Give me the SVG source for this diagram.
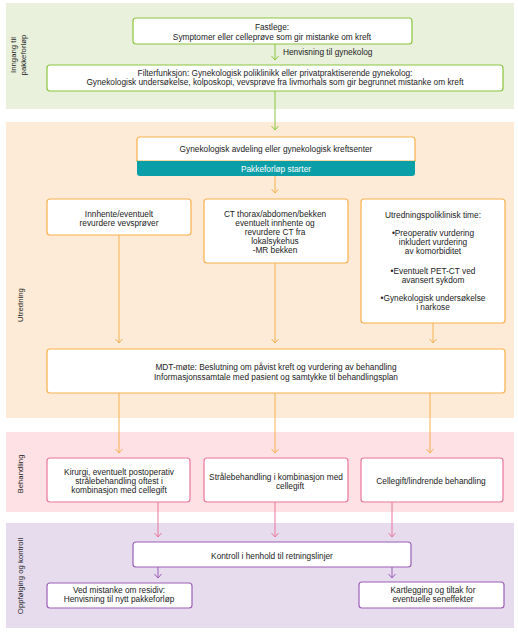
<svg xmlns="http://www.w3.org/2000/svg" width="518" height="633" viewBox="0 0 518 633">
<style>
text{font-family:"Liberation Sans",Arial,sans-serif;font-size:8.3px;fill:#222;text-anchor:middle}
.lbl{font-size:7.8px}
.box{fill:#fff;stroke-width:1.2}
.g{stroke:#8cc63f}
.o{stroke:#f8b04e}
.p{stroke:#e9769c}
.v{stroke:#9b5fb8}
.c{fill:none;stroke-width:1}
</style>
<defs>
<marker id="ag" markerWidth="8" markerHeight="6" refX="4" refY="5" markerUnits="userSpaceOnUse" viewBox="0 0 8 6"><polyline points="0.5,1 4,5 7.5,1" fill="none" stroke="#8cc63f" stroke-width="1"/></marker>
<marker id="ao" markerWidth="8" markerHeight="6" refX="4" refY="5" markerUnits="userSpaceOnUse" viewBox="0 0 8 6"><polyline points="0.5,1 4,5 7.5,1" fill="none" stroke="#f8b04e" stroke-width="1"/></marker>
<marker id="ap" markerWidth="8" markerHeight="6" refX="4" refY="5" markerUnits="userSpaceOnUse" viewBox="0 0 8 6"><polyline points="0.5,1 4,5 7.5,1" fill="none" stroke="#e9769c" stroke-width="1"/></marker>
<marker id="av" markerWidth="8" markerHeight="6" refX="4" refY="5" markerUnits="userSpaceOnUse" viewBox="0 0 8 6"><polyline points="0.5,1 4,5 7.5,1" fill="none" stroke="#9b5fb8" stroke-width="1"/></marker>
</defs>
<rect width="518" height="633" fill="#fff"/>
<g id="bands">
<rect x="6" y="3" width="508" height="106" fill="#e9f1dd"/>
<rect x="6" y="122" width="508" height="296" fill="#fdebd7"/>
<rect x="6" y="432" width="508" height="80" fill="#fde1e4"/>
<rect x="6" y="523" width="508" height="105" fill="#e6dced"/>
<text transform="translate(16,55) rotate(-90)" class="lbl">Inngang til</text>
<text transform="translate(25.5,55) rotate(-90)" class="lbl">pakkeforløp</text>
<text transform="translate(22.5,305) rotate(-90)" class="lbl">Utredning</text>
<text transform="translate(22.5,474) rotate(-90)" class="lbl">Behandling</text>
<text transform="translate(22.5,576) rotate(-90)" class="lbl">Oppfølging og kontroll</text>
</g>
<g id="connectors">
<line class="c g" x1="275" y1="44" x2="275" y2="60" marker-end="url(#ag)"/>
<text x="283" y="55" style="text-anchor:start">Henvisning til gynekolog</text>
<line class="c g" x1="275" y1="91" x2="275" y2="130" marker-end="url(#ag)"/>
<line class="c o" x1="275" y1="176" x2="275" y2="193" marker-end="url(#ao)"/>
<line class="c o" x1="119" y1="235" x2="119" y2="343" marker-end="url(#ao)"/>
<line class="c o" x1="275" y1="263" x2="275" y2="343" marker-end="url(#ao)"/>
<line class="c o" x1="433" y1="323" x2="433" y2="343" marker-end="url(#ao)"/>
<line class="c o" x1="119" y1="393" x2="119" y2="453" marker-end="url(#ao)"/>
<line class="c o" x1="275" y1="393" x2="275" y2="453" marker-end="url(#ao)"/>
<line class="c o" x1="430" y1="393" x2="430" y2="453" marker-end="url(#ao)"/>
<line class="c p" x1="158" y1="502" x2="158" y2="537" marker-end="url(#ap)"/>
<line class="c p" x1="275" y1="502" x2="275" y2="537" marker-end="url(#ap)"/>
<line class="c p" x1="392" y1="502" x2="392" y2="537" marker-end="url(#ap)"/>
<line class="c v" x1="158" y1="567" x2="158" y2="578" marker-end="url(#av)"/>
<line class="c v" x1="392" y1="567" x2="392" y2="578" marker-end="url(#av)"/>
</g>
<g id="fastlege">
<rect class="box g" x="133" y="18" width="279" height="26" rx="3"/>
<text x="272" y="30">Fastlege:</text>
<text x="272" y="39.5">Symptomer eller celleprøve som gir mistanke om kreft</text>
</g>
<g id="filter">
<rect class="box g" x="47" y="65" width="456" height="26" rx="3"/>
<text x="275" y="75.5">Filterfunksjon: Gynekologisk poliklinikk eller privatpraktiserende gynekolog:</text>
<text x="275" y="85">Gynekologisk undersøkelse, kolposkopi, vevsprøve fra livmorhals som gir begrunnet mistanke om kreft</text>
</g>
<g id="gynavd">
<path d="M137,161 V140 a3,3 0 0 1 3,-3 H412 a3,3 0 0 1 3,3 V161 Z" fill="#fff" stroke="#f8b04e" stroke-width="1.2"/>
<path d="M137,161 H415 V173 a3,3 0 0 1 -3,3 H140 a3,3 0 0 1 -3,-3 Z" fill="#0a9ea8"/>
<text x="276" y="152">Gynekologisk avdeling eller gynekologisk kreftsenter</text>
<text x="276" y="171.5" style="fill:#fff">Pakkeforløp starter</text>
</g>
<g id="vevsprover">
<rect class="box o" x="47" y="199" width="144" height="36" rx="3"/>
<text x="119" y="217">Innhente/eventuelt</text>
<text x="119" y="226">revurdere vevsprøver</text>
</g>
<g id="ct">
<rect class="box o" x="204" y="199" width="144" height="64" rx="3"/>
<text x="275" y="217">CT thorax/abdomen/bekken</text>
<text x="275" y="226">eventuelt innhente og</text>
<text x="275" y="235">revurdere CT fra</text>
<text x="275" y="244">lokalsykehus</text>
<text x="275" y="253">-MR bekken</text>
</g>
<g id="utredningspoliklinisk">
<rect class="box o" x="361" y="199" width="144" height="124" rx="3"/>
<text x="433" y="218">Utredningspoliklinisk time:</text>
<text x="433" y="236">•Preoperativ vurdering</text>
<text x="433" y="245">inkludert vurdering</text>
<text x="433" y="254">av komorbiditet</text>
<text x="433" y="274">•Eventuelt PET-CT ved</text>
<text x="433" y="283">avansert sykdom</text>
<text x="433" y="301">•Gynekologisk undersøkelse</text>
<text x="433" y="310">i narkose</text>
</g>
<g id="mdt">
<rect class="box o" x="47" y="349" width="458" height="44" rx="3"/>
<text x="276" y="370">MDT-møte: Beslutning om påvist kreft og vurdering av behandling</text>
<text x="276" y="380">Informasjonssamtale med pasient og samtykke til behandlingsplan</text>
</g>
<g id="kirurgi">
<rect class="box p" x="47" y="458" width="143" height="44" rx="3"/>
<text x="119" y="475">Kirurgi, eventuelt postoperativ</text>
<text x="119" y="484">strålebehandling oftest i</text>
<text x="119" y="493">kombinasjon med cellegift</text>
</g>
<g id="straale">
<rect class="box p" x="204" y="458" width="144" height="44" rx="3"/>
<text x="276" y="480">Strålebehandling i kombinasjon med</text>
<text x="290" y="489">cellegift</text>
</g>
<g id="cellegift">
<rect class="box p" x="361" y="458" width="142" height="44" rx="3"/>
<text x="431" y="484">Cellegift/lindrende behandling</text>
</g>
<g id="kontroll">
<rect class="box v" x="133" y="542" width="278" height="25" rx="3"/>
<text x="272" y="559">Kontroll i henhold til retningslinjer</text>
</g>
<g id="residiv">
<rect class="box v" x="47" y="583" width="145" height="25" rx="3"/>
<text x="119" y="593">Ved mistanke om residiv:</text>
<text x="119" y="602">Henvisning til nytt pakkeforløp</text>
</g>
<g id="seneffekter">
<rect class="box v" x="359" y="582" width="145" height="26" rx="3"/>
<text x="433" y="593">Kartlegging og tiltak for</text>
<text x="433" y="602">eventuelle seneffekter</text>
</g>
</svg>
